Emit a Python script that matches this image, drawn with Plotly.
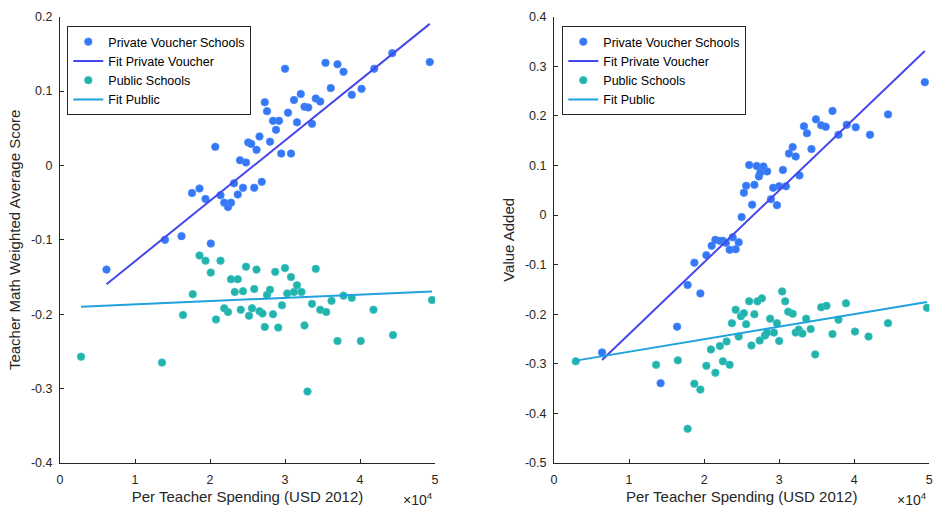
import numpy as np
import plotly.graph_objects as go

# ---------------- data (spending in USD 2012) ----------------
# Left panel: Teacher Math Weighted Average Score
priv_x_L = [6200, 14000, 16200, 17600, 18600, 19400, 20100, 20700, 21400, 21900,
            22400, 22800, 23200, 23700, 24000, 24400, 24800, 25100, 25500, 25900,
            26200, 26600, 26900, 27300, 27600, 28000, 28400, 28800, 29200, 29500,
            30000, 30400, 30800, 31200, 31600, 32100, 32600, 33100, 33600, 34100,
            34700, 35400, 36100, 37000, 37800, 38900, 40200, 41900, 44300, 49300]
priv_y_L = [-0.140, -0.100, -0.095, -0.037, -0.031, -0.045, -0.105, 0.025, -0.040, -0.050,
            -0.056, -0.050, -0.024, -0.039, 0.007, -0.030, 0.004, 0.031, 0.029, -0.030,
            0.021, 0.039, -0.022, 0.085, 0.073, 0.032, 0.060, 0.048, 0.060, 0.016,
            0.130, 0.071, 0.016, 0.088, 0.058, 0.096, 0.079, 0.078, 0.056, 0.090,
            0.086, 0.138, 0.104, 0.136, 0.126, 0.095, 0.103, 0.130, 0.151, 0.139]
pub_x_L = [2800, 13600, 16400, 17700, 18600, 19400, 20100, 20800, 21400, 21900,
           22400, 22800, 23300, 23700, 24100, 24400, 24800, 25200, 25600, 25900,
           26200, 26600, 27000, 27300, 27600, 28000, 28400, 28700, 29100, 29600,
           30000, 30300, 30800, 31200, 31600, 32200, 32600, 33000, 33600, 34100,
           34700, 35500, 36200, 37000, 37800, 38900, 40100, 41800, 44400, 49600]
pub_y_L = [-0.257, -0.265, -0.201, -0.173, -0.121, -0.128, -0.144, -0.207, -0.128, -0.192,
           -0.197, -0.153, -0.170, -0.153, -0.194, -0.169, -0.136, -0.202, -0.192, -0.166,
           -0.140, -0.196, -0.199, -0.217, -0.174, -0.167, -0.200, -0.143, -0.218, -0.188,
           -0.138, -0.172, -0.150, -0.170, -0.161, -0.170, -0.215, -0.304, -0.186, -0.139,
           -0.194, -0.197, -0.182, -0.236, -0.175, -0.178, -0.236, -0.194, -0.228, -0.181]

# Right panel: Value Added
priv_x_R = [6400, 14200, 16400, 17800, 18700, 19500, 20300, 21000, 21500, 22100,
            22500, 22900, 23400, 23800, 24200, 24600, 25000, 25300, 25600, 26000,
            26400, 26700, 27000, 27300, 27500, 27900, 28400, 28900, 29200, 29700,
            30000, 30500, 30900, 31300, 31800, 32200, 32700, 33300, 33700, 34300,
            34900, 35600, 36200, 37100, 37900, 39000, 40200, 42100, 44500, 49400]
priv_y_R = [-0.277, -0.339, -0.225, -0.141, -0.096, -0.158, -0.081, -0.062, -0.050, -0.052,
            -0.052, -0.056, -0.070, -0.045, -0.069, -0.055, -0.004, 0.045, 0.059, 0.101,
            0.021, 0.061, 0.099, 0.078, 0.086, 0.098, 0.088, 0.032, 0.055, 0.020,
            0.058, 0.091, 0.058, 0.124, 0.137, 0.118, 0.080, 0.179, 0.165, 0.133,
            0.193, 0.181, 0.178, 0.210, 0.162, 0.182, 0.177, 0.162, 0.203, 0.268]
pub_x_R = [2900, 13600, 16500, 17800, 18700, 19500, 20300, 20900, 21500, 22100,
           22500, 23000, 23400, 23700, 24200, 24600, 24900, 25300, 25600, 26000,
           26300, 26700, 27100, 27400, 27700, 28100, 28400, 28800, 29300, 29700,
           30000, 30400, 30800, 31200, 31800, 32200, 32600, 33100, 33600, 34200,
           34800, 35600, 36300, 37100, 37900, 38900, 40100, 41900, 44500, 49700]
pub_y_R = [-0.295, -0.302, -0.293, -0.431, -0.340, -0.352, -0.304, -0.271, -0.318, -0.264,
           -0.295, -0.255, -0.302, -0.218, -0.191, -0.245, -0.204, -0.198, -0.220, -0.174,
           -0.263, -0.200, -0.174, -0.253, -0.168, -0.243, -0.237, -0.209, -0.237, -0.218,
           -0.254, -0.154, -0.174, -0.195, -0.199, -0.237, -0.231, -0.239, -0.209, -0.230,
           -0.281, -0.186, -0.183, -0.240, -0.211, -0.178, -0.235, -0.245, -0.218, -0.187]

# Fitted lines: [intercept, slope per USD 10,000]
fit_priv_L = [-0.210, 0.0812]
fit_pub_L = [-0.1911, 0.00438]
fit_priv_R = [-0.385, 0.1449]
fit_pub_R = [-0.3009, 0.02528]

x_tickvals = [0, 10000, 20000, 30000, 40000, 50000]
x_ticktext = ["0", "1", "2", "3", "4", "5"]
yL_tickvals = [-0.4, -0.3, -0.2, -0.1, 0, 0.1, 0.2]
yL_ticktext = ["-0.4", "-0.3", "-0.2", "-0.1", "0", "0.1", "0.2"]
yR_tickvals = [-0.5, -0.4, -0.3, -0.2, -0.1, 0, 0.1, 0.2, 0.3, 0.4]
yR_ticktext = ["-0.5", "-0.4", "-0.3", "-0.2", "-0.1", "0", "0.1", "0.2", "0.3", "0.4"]

names = ["Private Voucher Schools", "Fit Private Voucher", "Public Schools", "Fit Public"]

# ---------------- styles ----------------
FONT = "Liberation Sans, Arial, Helvetica, sans-serif"
AX = "#262626"
C_PRIV = "#3478f6"
C_PRIV_EDGE = "#4a88f7"
C_PRIV_FIT = "#4646ee"
C_PUB = "#22b4a6"
C_PUB_EDGE = "#3bbcd0"
C_PUB_FIT = "#1fa2dd"


def fit_line(xs, coef):
    xr = np.array([min(xs), max(xs)], dtype=float)
    return xr, coef[0] + coef[1] * xr / 10000.0


fig = go.Figure()


def add_panel(px, py, ux, uy, fp, fu, xa, ya, leg):
    fig.add_trace(go.Scatter(x=px, y=py, mode="markers", name=names[0],
                             marker=dict(color=C_PRIV, size=7.5, line=dict(color=C_PRIV_EDGE, width=0.8)),
                             xaxis=xa, yaxis=ya, legend=leg))
    lx, ly = fit_line(px, fp)
    fig.add_trace(go.Scatter(x=lx, y=ly, mode="lines", name=names[1],
                             line=dict(color=C_PRIV_FIT, width=2),
                             xaxis=xa, yaxis=ya, legend=leg))
    fig.add_trace(go.Scatter(x=ux, y=uy, mode="markers", name=names[2],
                             marker=dict(color=C_PUB, size=7.5, line=dict(color=C_PUB_EDGE, width=0.8)),
                             xaxis=xa, yaxis=ya, legend=leg))
    lx, ly = fit_line(ux, fu)
    fig.add_trace(go.Scatter(x=lx, y=ly, mode="lines", name=names[3],
                             line=dict(color=C_PUB_FIT, width=2),
                             xaxis=xa, yaxis=ya, legend=leg))


add_panel(priv_x_L, priv_y_L, pub_x_L, pub_y_L, fit_priv_L, fit_pub_L, "x", "y", "legend")
add_panel(priv_x_R, priv_y_R, pub_x_R, pub_y_R, fit_priv_R, fit_pub_R, "x2", "y2", "legend2")

W, H = 933, 508
yd = [1 - 463 / H, 1 - 16.7 / H]

common_x = dict(range=[0, 50000], tickvals=x_tickvals, ticktext=x_ticktext,
                showline=True, linecolor=AX, linewidth=1, ticks="inside", ticklen=4,
                tickcolor=AX, showgrid=False, zeroline=False, mirror=False,
                automargin=False, ticklabelstandoff=5,
                tickfont=dict(family=FONT, size=12.5, color=AX),
                title=dict(text="Per Teacher Spending (USD 2012)",
                           font=dict(family=FONT, size=15, color=AX), standoff=5))
common_y = dict(showline=True, linecolor=AX, linewidth=1, ticks="inside", ticklen=4,
                tickcolor=AX, showgrid=False, zeroline=False, mirror=False,
                automargin=False, ticklabelstandoff=4,
                tickfont=dict(family=FONT, size=12.5, color=AX))

legend_style = dict(bgcolor="white", bordercolor=AX, borderwidth=1,
                    font=dict(family=FONT, size=12.5, color="#000000"),
                    xanchor="left", yanchor="top", y=1 - 26 / H, tracegroupgap=0)

fig.update_layout(
    width=W, height=H,
    margin=dict(l=0, r=0, t=0, b=0, autoexpand=False),
    paper_bgcolor="white", plot_bgcolor="white",
    showlegend=True,
    xaxis=dict(domain=[60 / W, 435 / W], anchor="y", **common_x),
    yaxis=dict(domain=yd, anchor="x", range=[-0.4, 0.2], tickvals=yL_tickvals,
               ticktext=yL_ticktext,
               title=dict(text="Teacher Math Weighted Average Score",
                          font=dict(family=FONT, size=15, color=AX), standoff=6),
               **common_y),
    xaxis2=dict(domain=[554 / W, 929.3 / W], anchor="y2", **common_x),
    yaxis2=dict(domain=yd, anchor="x2", range=[-0.5, 0.4], tickvals=yR_tickvals,
                ticktext=yR_ticktext,
                title=dict(text="Value Added",
                           font=dict(family=FONT, size=15, color=AX), standoff=6),
                **common_y),
    legend=dict(x=67.3 / W, **legend_style),
    legend2=dict(x=562.3 / W, **legend_style),
    annotations=[
        dict(text="×10<sup>4</sup>", xref="paper", yref="paper", x=435 / W, y=1 - 499 / H,
             xanchor="right", yanchor="middle", showarrow=False,
             font=dict(family=FONT, size=14, color=AX)),
        dict(text="×10<sup>4</sup>", xref="paper", yref="paper", x=929.3 / W, y=1 - 499 / H,
             xanchor="right", yanchor="middle", showarrow=False,
             font=dict(family=FONT, size=14, color=AX)),
    ],
)

fig.write_html(
    "out.html",
    config={"displayModeBar": False},
    post_script="document.body.style.margin='0';document.body.style.overflow='hidden';",
)
